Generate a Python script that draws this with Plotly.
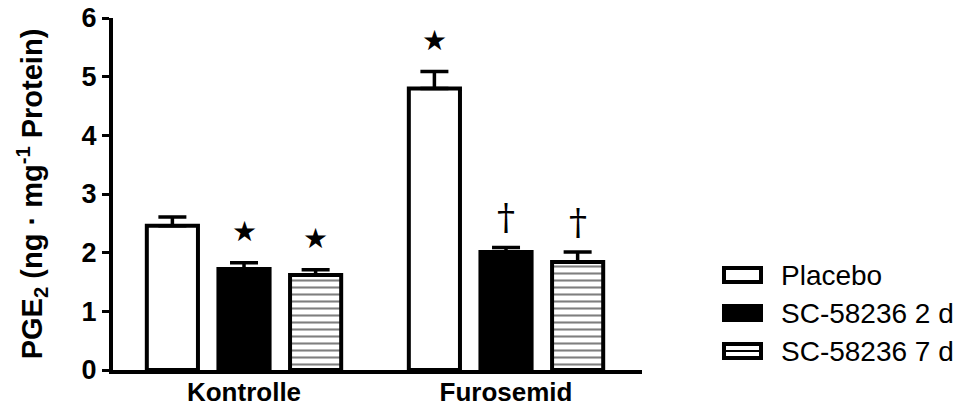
import plotly.graph_objects as go

# PGE2 content per group and treatment (mean, SEM)
groups = ["Kontrolle", "Furosemid"]
series_names = ["Placebo", "SC-58236 2 d", "SC-58236 7 d"]
means = {
    "Placebo": [2.46, 4.80],
    "SC-58236 2 d": [1.72, 2.01],
    "SC-58236 7 d": [1.62, 1.84],
}
sems = {
    "Placebo": [0.15, 0.29],
    "SC-58236 2 d": [0.11, 0.08],
    "SC-58236 7 d": [0.09, 0.17],
}
# significance markers above each bar ("" = none)
marks = {
    "Placebo": ["", "★"],
    "SC-58236 2 d": ["★", "†"],
    "SC-58236 7 d": ["★", "†"],
}

FONT = "Liberation Sans, Arial, sans-serif"
W, H = 968, 410
ML, MR, MT, MB = 113, 326, 18, 40
BARGAP = 0.18
BARGROUPGAP = 0.286

styles = {
    "Placebo": dict(color="white", pattern=None),
    "SC-58236 2 d": dict(color="black", pattern=None),
    "SC-58236 7 d": dict(color="white",
                         pattern=dict(shape="-", fgcolor="black", bgcolor="white",
                                      size=7, solidity=0.3, fillmode="overlay")),
}

fig = go.Figure()
for name in series_names:
    st = styles[name]
    marker = dict(color=st["color"], line=dict(color="black", width=4))
    if st["pattern"]:
        marker["pattern"] = st["pattern"]
    fig.add_trace(go.Bar(
        x=groups, y=means[name], name=name, marker=marker,
        error_y=dict(type="data", array=sems[name], arrayminus=[0] * len(groups),
                     symmetric=False, color="black", thickness=3.5, width=14),
        showlegend=False,
    ))

# significance symbols, placed above each error bar
slot = (1 - BARGAP) / len(series_names)
for i, name in enumerate(series_names):
    off = (i - (len(series_names) - 1) / 2) * slot
    for g, grp in enumerate(groups):
        m = marks[name][g]
        if not m:
            continue
        fig.add_annotation(
            x=g + off, y=means[name][g] + sems[name][g], xref="x", yref="y",
            text=m, showarrow=False, yanchor="middle", yshift=31,
            font=dict(family="DejaVu Sans" if m == "★" else "DejaVu Serif",
                      size=28 if m == "★" else 36, color="black"),
        )

# legend drawn beside the plot
pw = W - ML - MR
ph = H - MT - MB
def px_x(px):
    return (px - ML) / pw
def px_y(py):
    return (H - MB - py) / ph

row_y = [275, 313, 351]
for name, py in zip(series_names, row_y):
    st = styles[name]
    fig.add_shape(type="rect", xref="paper", yref="paper",
                  x0=px_x(724), x1=px_x(761), y0=px_y(py + 7), y1=px_y(py - 7),
                  line=dict(color="black", width=4),
                  fillcolor="black" if st["color"] == "black" else "white")
    if st["pattern"]:
        fig.add_shape(type="line", xref="paper", yref="paper",
                      x0=px_x(724), x1=px_x(761), y0=px_y(py), y1=px_y(py),
                      line=dict(color="black", width=2))
    fig.add_annotation(x=px_x(779), y=px_y(py), xref="paper", yref="paper",
                       text=name, showarrow=False, xanchor="left", yanchor="middle",
                       font=dict(family=FONT, size=28, color="black"))

fig.update_layout(
    width=W, height=H,
    margin=dict(l=ML, r=MR, t=MT, b=MB, autoexpand=False),
    paper_bgcolor="white", plot_bgcolor="white",
    barmode="group", bargap=BARGAP, bargroupgap=BARGROUPGAP,
    font=dict(family=FONT, color="black"),
)
fig.update_xaxes(
    range=[-0.5, 1.519], showline=True, linecolor="black", linewidth=4,
    ticks="", showgrid=False, zeroline=False, automargin=False,
    ticklabelstandoff=-4,
    tickfont=dict(family=FONT, size=26, weight="bold"),
)
fig.update_yaxes(
    range=[0, 6], dtick=1, showline=True, linecolor="black", linewidth=4,
    ticks="outside", ticklen=7, tickwidth=3, tickcolor="black",
    showgrid=False, zeroline=False, automargin=False,
    tickfont=dict(family=FONT, size=27, weight="bold"),
    title=dict(text="PGE<sub>2</sub> (ng · mg<sup>-1</sup> Protein)",
               font=dict(family=FONT, size=29, weight="bold"), standoff=31),
)

fig.write_html("out.html")
